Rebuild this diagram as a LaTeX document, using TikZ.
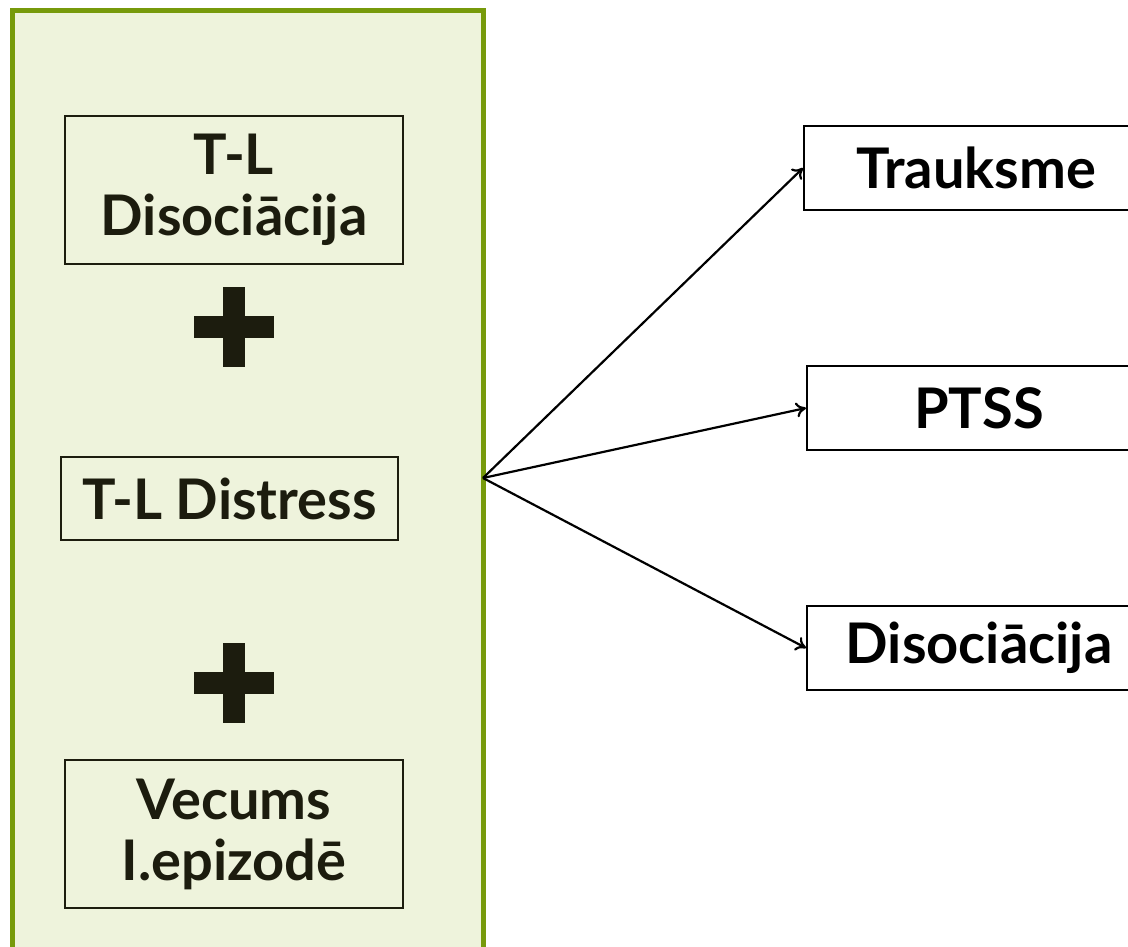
\documentclass[tikz,border=0pt]{standalone}
\usepackage{fontspec}
\setmainfont{Lato}
\usetikzlibrary{arrows.meta}
\definecolor{panelgreen}{HTML}{779A0B}
\definecolor{panelfill}{HTML}{EEF3DC}
\definecolor{darkink}{HTML}{1C1C0E}
\begin{document}
\begin{tikzpicture}[x=1pt,y=-1pt,
  box/.style={draw=darkink, line width=2pt, inner sep=0pt, align=center,
    font=\fontsize{56}{61}\selectfont\bfseries, text=darkink},
  outbox/.style={draw=black, line width=2pt, inner sep=0pt, align=center,
    font=\fontsize{56}{61}\selectfont\bfseries, text=black},
  link/.style={draw=black, line width=2.2pt, -{To[length=10pt,width=15pt]}},
  plus/.style={fill=darkink}]
\useasboundingbox (0,0) rectangle (1128,946);
\begin{scope}
\clip (0,0) rectangle (1128,946);
% panel
\node[draw=panelgreen, fill=panelfill, line width=5pt, minimum width=471pt, minimum height=960pt, inner sep=0pt] (panel) at (247.5,490) {};
% left boxes
\node[box, fill=panelfill, minimum width=338pt, minimum height=148pt] (dis) at (234,190) {T-L\\Disoci\=acija};
\node[box, fill=panelfill, minimum width=337pt, minimum height=83pt] (distress) at (229.5,498.5) {T-L Distress};
\node[box, fill=panelfill, minimum width=338pt, minimum height=148pt] (age) at (234,834) {Vecums\\I.epizod\=e};
% plus signs
\path[plus] (223,287) rectangle (245,367);
\path[plus] (194,316) rectangle (274,338);
\path[plus] (223,643) rectangle (245,723);
\path[plus] (194,672) rectangle (274,694);
% right boxes
\node[outbox, fill=white, minimum width=344pt, minimum height=84pt] (tr) at (976,168) {Trauksme};
\node[outbox, fill=white, minimum width=344pt, minimum height=84pt] (ptss) at (979,408) {PTSS};
\node[outbox, fill=white, minimum width=344pt, minimum height=84pt] (dis2) at (979,648) {Disoci\=acija};
\coordinate (src) at (483,478);
\draw[link] (src) -- (tr.west);
\draw[link] (src) -- (ptss.west);
\draw[link] (src) -- (dis2.west);
\end{scope}
\end{tikzpicture}
\end{document}
